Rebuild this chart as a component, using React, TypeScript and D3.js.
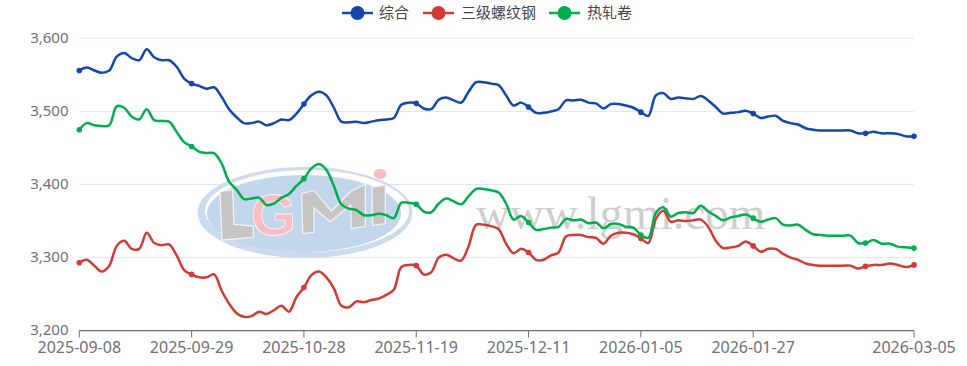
import React from "react";
import * as d3 from "d3";

const seriesNames = ["综合", "三级螺纹钢", "热轧卷"];
const seriesColors = ["#1446ab", "#d23a34", "#00ae4f"];
const tickLabels = ["2025-09-08", "2025-09-29", "2025-10-28", "2025-11-19", "2025-12-11", "2026-01-05", "2026-01-27", "2026-03-05"];
const tickIndexes = [0, 15, 30, 45, 60, 75, 90, 111];
const dotIndexes = [0, 15, 30, 45, 60, 75, 90, 105, 111];
const yTicks = [3200, 3300, 3400, 3500, 3600];

const composite = [3556,3560,3556,3553,3556,3575,3580,3573,3570,3585,3574,3570,3570,3561,3545,3538,3535,3531,3533,3520,3503,3492,3484,3484,3486,3481,3484,3489,3488,3497,3510,3522,3527,3522,3505,3486,3485,3486,3484,3486,3488,3489,3491,3509,3512,3511,3504,3503,3516,3519,3515,3512,3527,3540,3540,3538,3536,3522,3508,3512,3506,3498,3498,3500,3503,3515,3515,3516,3512,3511,3504,3510,3510,3508,3505,3499,3494,3522,3525,3517,3519,3518,3517,3521,3515,3506,3497,3498,3499,3501,3497,3491,3493,3494,3487,3484,3482,3477,3475,3474,3474,3474,3474,3474,3470,3470,3472,3470,3470,3469,3466,3466];
const rebar = [3293,3297,3289,3281,3289,3316,3323,3312,3312,3334,3320,3317,3318,3303,3283,3277,3273,3273,3277,3255,3237,3224,3219,3220,3226,3223,3228,3234,3226,3246,3259,3276,3281,3273,3258,3234,3232,3240,3239,3242,3244,3249,3256,3287,3290,3289,3277,3280,3300,3304,3299,3296,3316,3345,3345,3343,3339,3319,3306,3312,3307,3297,3297,3303,3307,3329,3331,3331,3328,3327,3319,3330,3334,3334,3332,3326,3320,3353,3364,3349,3351,3350,3351,3352,3342,3323,3313,3314,3316,3322,3316,3308,3312,3312,3305,3300,3297,3292,3290,3289,3289,3289,3289,3289,3285,3288,3290,3290,3292,3290,3287,3290];
const coil = [3475,3484,3481,3480,3481,3507,3505,3493,3489,3503,3488,3487,3486,3472,3458,3452,3445,3443,3443,3429,3404,3393,3380,3381,3382,3372,3374,3382,3387,3398,3408,3422,3428,3420,3398,3373,3367,3365,3358,3358,3360,3358,3354,3375,3375,3373,3363,3362,3374,3381,3377,3373,3384,3394,3394,3392,3389,3374,3352,3357,3348,3338,3339,3341,3342,3353,3351,3352,3347,3348,3340,3346,3346,3342,3341,3331,3327,3361,3369,3356,3361,3362,3361,3371,3363,3357,3351,3355,3357,3359,3354,3349,3352,3354,3345,3344,3345,3338,3332,3331,3330,3330,3330,3330,3320,3320,3324,3319,3319,3315,3314,3313];
const allSeries = [composite, rebar, coil];

const x = d3.scaleLinear().domain([0, 105, 111]).range([79.3, 865.5, 914]);
const y = d3.scaleLinear().domain([3200, 3600]).range([330.7, 38.3]);
const lineGen = d3.line<number>().x((_, i) => x(i)).y((d) => y(d)).curve(d3.curveCatmullRom.alpha(0.5));

const cjk = "'Noto Sans CJK SC', 'Noto Sans', sans-serif";
const axisFont = "'Noto Sans', sans-serif";
const legendX = [342, 423, 549];
const legendTextX = [379, 461, 587];

export default function App() {
  return (
    <svg width={967} height={366} style={{ position: "absolute", left: 0, top: 0, background: "#fff" }} fontFamily={axisFont}>
      <g>
        {yTicks.map((t) => (
          <line key={t} x1={79.3} x2={914} y1={y(t)} y2={y(t)} stroke="#e0e6f1" strokeWidth={1} />
        ))}
      </g>
      <g>
        <ellipse cx={305} cy={212.5} rx={107.5} ry={45.5} fill="#cbdcee" />
        <ellipse cx={307} cy={211} rx={102} ry={41} fill="#ffffff" />
        <ellipse cx={304} cy={213.5} rx={97} ry={38.5} fill="#c2d6ec" />
        <g transform="translate(190,155) scale(0.3333)" stroke="#f2f2f2" strokeWidth={4} strokeLinejoin="round">
          <path d="M90,110 L128,104 L132,208 L190,213 L190,247 L96,255 Z" fill="#c7c5c4" />
          <path d="M335,115 L372,106 L424,168 L484,108 L526,88 L526,214 L484,220 L482,150 L420,200 L372,158 L372,232 L338,236 Z" fill="#c7c5c4" />
          <path d="M546,96 L586,90 L586,206 L548,212 Z" fill="#c7c5c4" />
        </g>
        <text x={251} y={235} fontSize={58} fontWeight={700} fill="#fbbcc2" stroke="#f6f6f6" strokeWidth={0.8} fontFamily="'Liberation Sans', sans-serif">G</text>
        <ellipse cx={380} cy={174} rx={6.5} ry={5} fill="#fbbcc2" />
        <text x={476} y={229} fontSize={47} fill="#cfcfcf" fontFamily="'Liberation Serif', serif">www.lgmi.com</text>
      </g>
      {allSeries.map((s, k) => (
        <g key={k}>
          <path d={lineGen(s) ?? ""} fill="none" stroke={seriesColors[k]} strokeWidth={2.5} strokeLinejoin="round" />
          {dotIndexes.map((i) => (
            <circle key={i} cx={x(i)} cy={y(s[i])} r={2.8} fill={seriesColors[k]} />
          ))}
        </g>
      ))}
      <line x1={79.3} x2={914} y1={330.7} y2={330.7} stroke="#6e7079" strokeWidth={1.2} />
      {tickIndexes.map((i, k) => (
        <g key={i}>
          <line x1={x(i)} x2={x(i)} y1={330.7} y2={337.5} stroke="#6e7079" strokeWidth={1} />
          <text x={x(i)} y={353} textAnchor="middle" fontSize={16} fill="#6e7079">{tickLabels[k]}</text>
        </g>
      ))}
      {yTicks.map((t) => (
        <text key={t} x={68.5} y={y(t) + 4.5} textAnchor="end" fontSize={15} fill="#6e7079">{d3.format(",")(t)}</text>
      ))}
      {seriesNames.map((n, k) => (
        <g key={n}>
          <line x1={legendX[k]} x2={legendX[k] + 31} y1={13} y2={13} stroke={seriesColors[k]} strokeWidth={2.5} />
          <circle cx={legendX[k] + 15.5} cy={13} r={7} fill={seriesColors[k]} />
          <text x={legendTextX[k]} y={18} fontSize={15} fill="#444" fontFamily={cjk}>{n}</text>
        </g>
      ))}
    </svg>
  );
}
